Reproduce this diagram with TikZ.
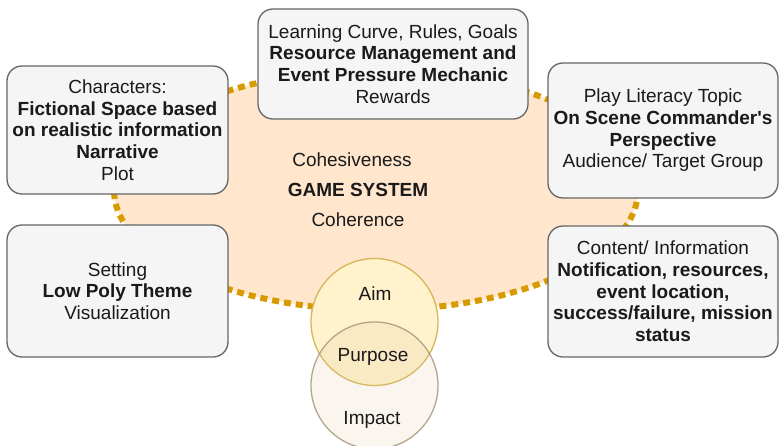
\documentclass[tikz,border=0pt]{standalone}
\usepackage{fontspec}
\setmainfont{Liberation Sans}
\definecolor{sysfill}{HTML}{FFE6CC}
\definecolor{sysline}{HTML}{D79B00}
\definecolor{boxfill}{HTML}{F5F5F5}
\definecolor{boxline}{HTML}{666666}
\definecolor{aimfill}{HTML}{FFF2CC}
\definecolor{aimline}{HTML}{D6B656}
\definecolor{impfill}{HTML}{E2C9A2}
\definecolor{impline}{HTML}{A8977A}
\definecolor{ink}{HTML}{1A1A1A}
\begin{document}
\begin{tikzpicture}[x=1pt,y=-1pt,
  every node/.style={text=ink, font=\fontsize{19}{21.7}\selectfont},
  topicbox/.style={draw=boxline, fill=boxfill, line width=1.3pt,
    rounded corners=15pt, inner sep=0pt, align=center},
  label/.style={anchor=base, inner sep=0pt}]
\useasboundingbox (0,0) rectangle (779,446);
\begin{scope}
\clip (0,0) rectangle (779,446);

% game system ellipse
\path[fill=sysfill, draw=sysline, line width=6pt, dash pattern=on 7pt off 5pt]
  (376,190) ellipse [x radius=262, y radius=120];

% topic boxes
\node[topicbox, minimum width=270pt, minimum height=110pt] (rules) at (393,64)
  {Learning Curve, Rules, Goals\\\textbf{Resource Management and}\\\textbf{Event Pressure Mechanic}\\Rewards};
\node[topicbox, minimum width=221pt, minimum height=128pt] (chars) at (117.5,130)
  {Characters:\\\textbf{Fictional Space based}\\\textbf{on realistic information}\\\textbf{Narrative}\\Plot};
\node[topicbox, minimum width=221pt, minimum height=132pt] (setting) at (117.5,291)
  {Setting\\\textbf{Low Poly Theme}\\Visualization};
\node[topicbox, minimum width=230pt, minimum height=135pt] (play) at (663,130.5)
  {Play Literacy Topic\\\textbf{On Scene Commander\textquotesingle s}\\\textbf{Perspective}\\Audience/ Target Group};
\node[topicbox, minimum width=230pt, minimum height=131pt] (content) at (663,291.5)
  {Content/ Information\\\textbf{Notification, resources,}\\\textbf{event location,}\\\textbf{success/failure, mission}\\\textbf{status}};

% system labels
\node[label] (coh1) at (352,167) {Cohesiveness};
\node[label] (gs) at (358,197) {\textbf{GAME SYSTEM}};
\node[label] (coh2) at (358,227) {Coherence};

% aim / impact circles
\node[circle, draw=aimline, fill=aimfill, line width=1.3pt, minimum size=127pt, inner sep=0pt] (aim) at (374.5,322) {};
\node[circle, draw=impline, fill=impfill, fill opacity=0.18, draw opacity=0.85, line width=1.3pt, minimum size=127pt, inner sep=0pt] (impact) at (374.5,385.5) {};
\node[label] (aimt) at (375,301) {Aim};
\node[label] (purp) at (373,361) {Purpose};
\node[label] (impt) at (372,424) {Impact};
\end{scope}
\end{tikzpicture}
\end{document}
